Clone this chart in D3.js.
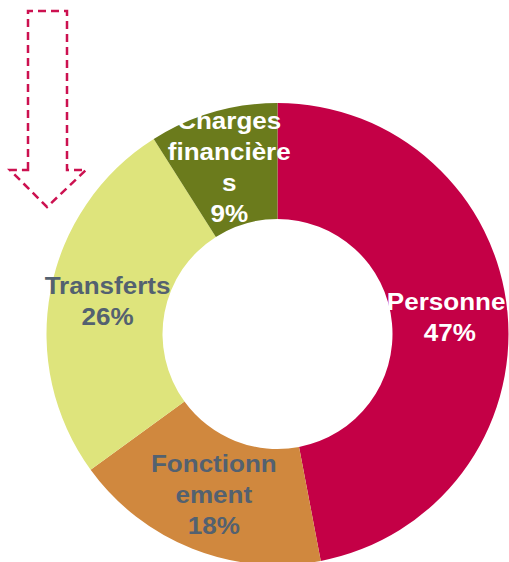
<!DOCTYPE html>
<html>
<head>
<meta charset="utf-8">
<script src="https://cdn.jsdelivr.net/npm/d3@7"></script>
<style>
  html, body { margin: 0; padding: 0; background: #fff; }
  svg { display: block; }
  .lbl { font-family: "Liberation Sans", Arial, sans-serif; font-weight: bold; font-size: 24px; }
</style>
</head>
<body>
<div id="container"><svg></svg></div>
<script>
const W = 509;
const H = 562;

const categories = ['Personnel', 'Fonctionnement', 'Transferts', 'Charges financières'];
const values = [47, 18, 26, 9];
const labelLines = [['Personnel'], ['Fonctionn', 'ement'], ['Transferts'], ['Charges', 'financière', 's']];
const colors = ['#C40046', '#D0883E', '#DEE47C', '#6B7B1C'];
const textColors = ['#FFFFFF', '#536170', '#536170', '#FFFFFF'];

const CX = 277.5, CY = 334;
const R_OUT = 231, R_IN = 115;
const LINE_H = 31;
const STRETCH = 1.085; // labels in the original are drawn a bit wider than the font

let svg = d3.select('#container').select('svg')
    .attr('width', W)
    .attr('height', H);

// dashed arrow on the left
svg.append('path')
    .attr('d', 'M28,170 L28,11 L67,11 L67,170 L86,170 L47,207 L10,170 Z')
    .attr('fill', 'none')
    .attr('stroke', '#CC1150')
    .attr('stroke-width', 2.5)
    .attr('stroke-dasharray', '8,5');

let data = categories.map((c, i) => ({name: c, value: values[i], i: i}));

let pie = d3.pie()
    .sort(null)
    .value(d => d.value);

let arc = d3.arc()
    .innerRadius(R_IN)
    .outerRadius(R_OUT);

let labelArc = d3.arc()
    .innerRadius((R_IN + R_OUT) / 2)
    .outerRadius((R_IN + R_OUT) / 2);

let g = svg.append('g')
    .attr('transform', `translate(${CX}, ${CY})`);

let arcs = pie(data);

g.selectAll('path')
    .data(arcs)
    .enter()
    .append('path')
    .attr('d', arc)
    .attr('fill', d => colors[d.data.i]);

let total = d3.sum(values);

let labels = g.selectAll('text')
    .data(arcs)
    .enter()
    .append('text')
    .attr('class', 'lbl')
    .attr('text-anchor', 'middle')
    .attr('fill', d => textColors[d.data.i])
    .attr('transform', d => {
        let c = labelArc.centroid(d);
        return `translate(${c[0]}, ${c[1]}) scale(${STRETCH}, 1)`;
    });

labels.each(function(d) {
    let lines = labelLines[d.data.i].concat([Math.round(d.data.value / total * 100) + '%']);
    let y0 = -(lines.length - 1) * LINE_H / 2 + 8;
    d3.select(this).selectAll('tspan')
        .data(lines)
        .enter()
        .append('tspan')
        .attr('x', 0)
        .attr('y', (l, k) => y0 + k * LINE_H)
        .text(l => l);
});
</script>
</body>
</html>
